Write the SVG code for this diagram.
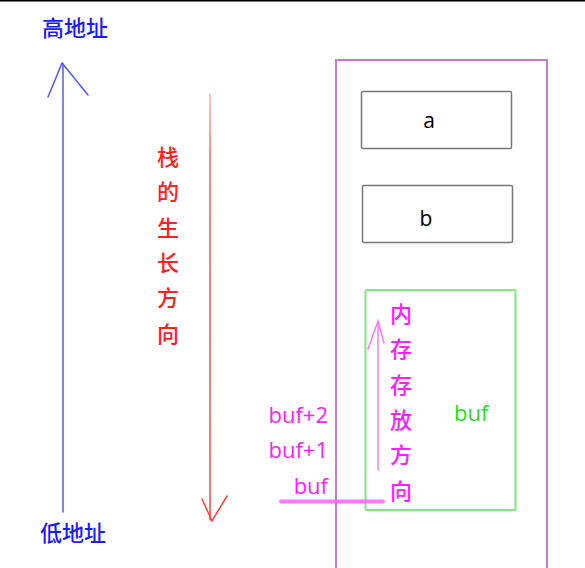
<svg xmlns="http://www.w3.org/2000/svg" width="585" height="568" viewBox="0 0 585 568">
<defs>
<style>
.cjk{font-family:"Noto Sans CJK SC","Noto Sans",sans-serif;font-size:22px;font-weight:500;text-anchor:middle}
.lat{font-family:"Open Sans","Noto Sans",sans-serif;font-size:22px;font-weight:500}
.box{fill:none;stroke:#777;stroke-width:1.5}
</style>
<linearGradient id="rg" gradientUnits="userSpaceOnUse" x1="0" y1="94" x2="0" y2="520">
<stop offset="0" stop-color="#ffb0b0"/>
<stop offset="0.15" stop-color="#ff5a5a"/>
<stop offset="1" stop-color="#ff4040"/>
</linearGradient>
</defs>
<rect width="585" height="568" fill="#fff"/>
<line x1="0" y1="0.5" x2="585" y2="0.5" stroke="#000" stroke-width="2"/>
<g id="labels-address">
<text class="cjk" x="75" y="36" fill="#1a1aff" font-weight="bold">高地址</text>
<text class="cjk" x="73" y="541" fill="#1a1aff" font-weight="bold">低地址</text>
</g>
<g id="stack-label" fill="#ff2020">
<text class="cjk" x="168" y="165">栈</text>
<text class="cjk" x="168" y="200">的</text>
<text class="cjk" x="168" y="236">生</text>
<text class="cjk" x="168" y="271">长</text>
<text class="cjk" x="168" y="306">方</text>
<text class="cjk" x="168" y="342">向</text>
</g>
<g id="container">
<path d="M336 568 V60 H547 V568" fill="none" stroke="#c080c8" stroke-width="2"/>
</g>
<g id="a">
<rect class="box" x="361.5" y="91.5" width="150" height="57" rx="1.5"/>
<text x="429" y="128" font-family="'Open Sans',sans-serif" font-size="21" text-anchor="middle">a</text>
</g>
<g id="b">
<rect class="box" x="362.5" y="185.5" width="150" height="57" rx="1.5"/>
<text x="426" y="226" font-family="'Open Sans',sans-serif" font-size="21" text-anchor="middle">b</text>
</g>
<g id="buf">
<rect x="365.5" y="290" width="150" height="220" fill="none" stroke="#77ee77" stroke-width="2" rx="1.5"/>
<text class="lat" x="454" y="421" fill="#22dd22">buf</text>
</g>
<g id="memory-label" fill="#ff20ff">
<text class="cjk" x="401" y="322">内</text>
<text class="cjk" x="401" y="357">存</text>
<text class="cjk" x="401" y="393">存</text>
<text class="cjk" x="401" y="428">放</text>
<text class="cjk" x="401" y="463">方</text>
<text class="cjk" x="401" y="499">向</text>
</g>
<g id="buf-offsets" fill="#ff20ff">
<text class="lat" x="328" y="423" text-anchor="end">buf+2</text>
<text class="lat" x="328" y="458" text-anchor="end">buf+1</text>
<text class="lat" x="328" y="494" text-anchor="end">buf</text>
</g>
<g id="connectors" fill="none" stroke-linecap="round">
<line x1="63" y1="64" x2="63" y2="512" stroke="#5555ff" stroke-width="1.5"/>
<polyline points="48,97 62,63 88,95" stroke="#5555ff" stroke-width="1.5"/>
<line x1="210" y1="94" x2="210" y2="520" stroke="url(#rg)" stroke-width="1.5"/>
<polyline points="202,499 212,521 227,496" stroke="#ff4040" stroke-width="1.5"/>
<line x1="378" y1="322" x2="378" y2="470" stroke="#ff77ff" stroke-width="1.5"/>
<polyline points="368,349 378,321 384,343" stroke="#ff77ff" stroke-width="1.5"/>
<line x1="281" y1="501.5" x2="383" y2="501.5" stroke="#ff55ff" stroke-opacity="0.8" stroke-width="4"/>
</g>
</svg>
